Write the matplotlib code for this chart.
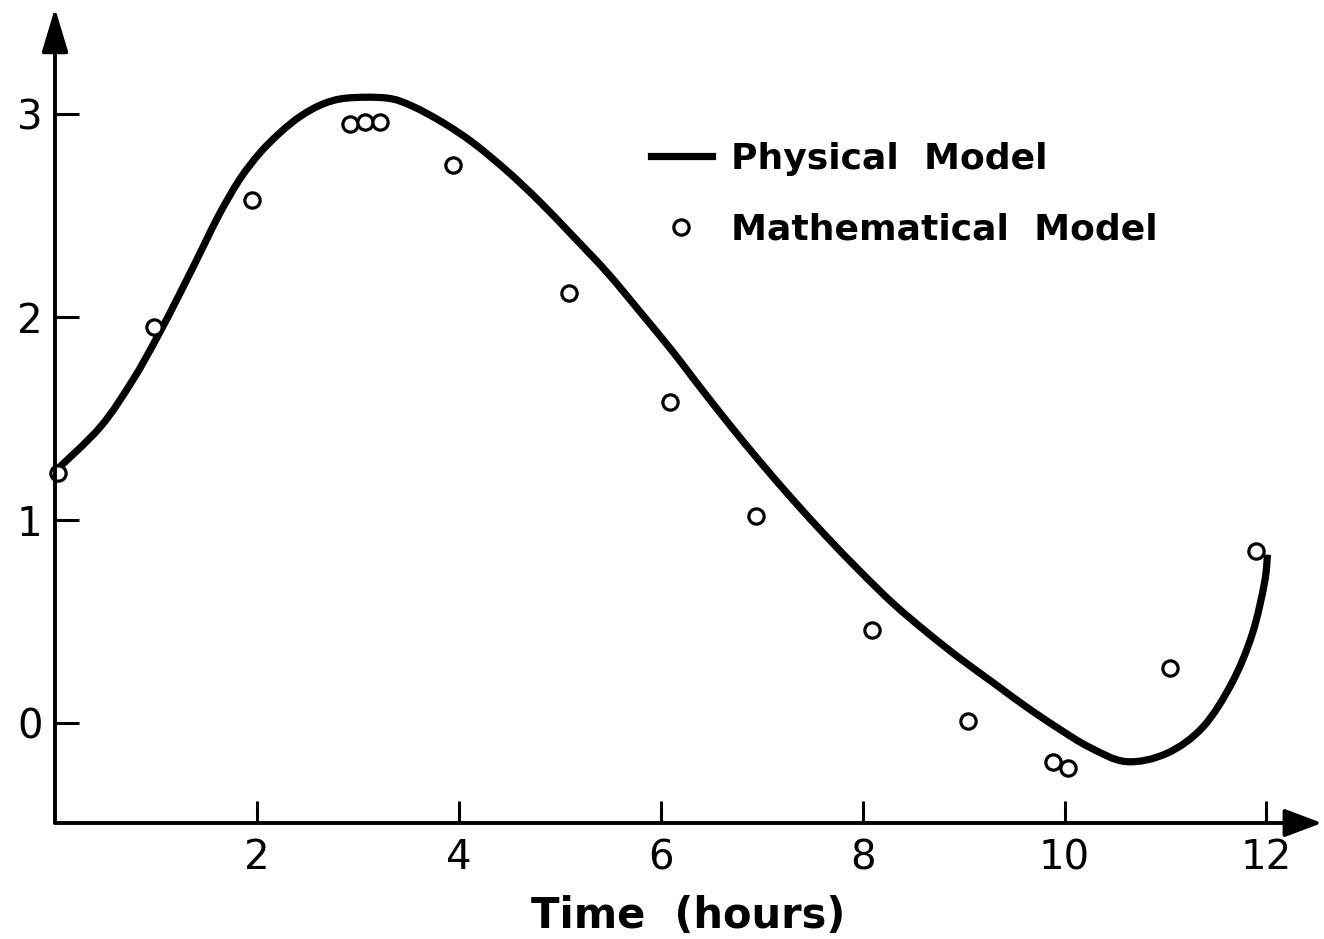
import matplotlib
matplotlib.use("Agg")
import matplotlib.pyplot as plt
from matplotlib.path import Path
from matplotlib.patches import PathPatch
from matplotlib.lines import Line2D

# physical model trace
phys_t = [0.0, 0.45, 0.77, 1.01, 1.24, 1.47, 1.63, 1.83, 2.03, 2.23, 2.43,
          2.65, 2.89, 3.29, 3.54, 3.84, 4.14, 4.48, 4.80, 5.13, 5.47, 5.79,
          6.12, 6.32, 6.65, 6.98, 7.31, 7.64, 7.97, 8.30, 8.63, 8.96, 9.29,
          9.62, 9.95, 10.25, 10.61, 11.01, 11.37, 11.66, 11.86, 11.98, 12.01]
phys_v = [1.24, 1.46, 1.69, 1.90, 2.12, 2.35, 2.51, 2.68, 2.81, 2.91, 2.99,
          3.05, 3.08, 3.08, 3.04, 2.96, 2.86, 2.72, 2.57, 2.40, 2.22, 2.03,
          1.83, 1.70, 1.49, 1.29, 1.10, 0.92, 0.75, 0.59, 0.45, 0.32, 0.20,
          0.08, -0.03, -0.12, -0.19, -0.15, -0.02, 0.20, 0.44, 0.69, 0.83]

# mathematical model points
math_t = [0.03, 0.98, 1.95, 2.92, 3.07, 3.22, 3.94, 5.09, 6.09, 6.94, 8.09,
          9.04, 9.89, 10.03, 11.04, 11.90]
math_v = [1.23, 1.95, 2.58, 2.95, 2.96, 2.96, 2.75, 2.12, 1.58, 1.02, 0.46,
          0.01, -0.19, -0.22, 0.27, 0.85]

x_ticks = [2, 4, 6, 8, 10, 12]
y_ticks = [0, 1, 2, 3]


def smooth_path(xs, ys):
    # Catmull-Rom through the points, written as cubic Bezier segments
    pts = list(zip(xs, ys))
    n = len(pts)
    verts = [pts[0]]
    codes = [Path.MOVETO]
    for i in range(n - 1):
        p0 = pts[max(i - 1, 0)]
        p1 = pts[i]
        p2 = pts[i + 1]
        p3 = pts[min(i + 2, n - 1)]
        c1 = (p1[0] + (p2[0] - p0[0]) / 6, p1[1] + (p2[1] - p0[1]) / 6)
        c2 = (p2[0] - (p3[0] - p1[0]) / 6, p2[1] - (p3[1] - p1[1]) / 6)
        verts += [c1, c2, p2]
        codes += [Path.CURVE4] * 3
    return Path(verts, codes)


plt.rcParams['font.family'] = ['DejaVu Sans']

W, H = 1324, 939
fig = plt.figure(figsize=(W / 100, H / 100), dpi=100)
left, bottom = 55, 116
ax = fig.add_axes([left / W, bottom / H, (1322 - left) / W, (931 - bottom) / H])
ax.set_xlim(0, 12.55)
ax.set_ylim(-0.4926, 3.524)

curve = PathPatch(smooth_path(phys_t, phys_v), fill=False, lw=5.2,
                  ec='black', capstyle='butt', joinstyle='round')
ax.add_patch(curve)
pts, = ax.plot(math_t, math_v, 'o', ms=11, mfc='white', mec='black',
               mew=2.3, clip_on=False, zorder=3)

for s in ['top', 'right', 'left', 'bottom']:
    ax.spines[s].set_visible(False)

# axes drawn as arrows
ax.annotate('', xy=(0, 1), xytext=(0, 0), xycoords='axes fraction',
            arrowprops=dict(arrowstyle='-|>,head_length=1.0,head_width=0.3',
                            lw=2.8, color='black', mutation_scale=27,
                            shrinkA=0, shrinkB=0))
ax.annotate('', xy=(1, 0), xytext=(0, 0), xycoords='axes fraction',
            arrowprops=dict(arrowstyle='-|>,head_length=1.0,head_width=0.375',
                            lw=2.8, color='black', mutation_scale=23,
                            shrinkA=0, shrinkB=0))

ax.set_xticks(x_ticks)
ax.set_yticks(y_ticks)
ax.tick_params(axis='both', direction='in', width=2.2, color='black',
               labelsize=29)
ax.tick_params(axis='y', length=17, pad=9)
ax.tick_params(axis='x', length=16, pad=11)

ax.set_xlabel('Time  (hours)', fontsize=30, fontweight='bold', labelpad=12)

line_handle = Line2D([], [], color='black', lw=5.2)
ax.legend([line_handle, pts], ['Physical  Model', 'Mathematical  Model'],
          loc='upper left', bbox_to_anchor=(0.445, 0.876), frameon=False,
          handlelength=1.67, handletextpad=0.55, labelspacing=1.03,
          prop={'weight': 'bold', 'size': 26})

fig.savefig('out.png', dpi=100)
